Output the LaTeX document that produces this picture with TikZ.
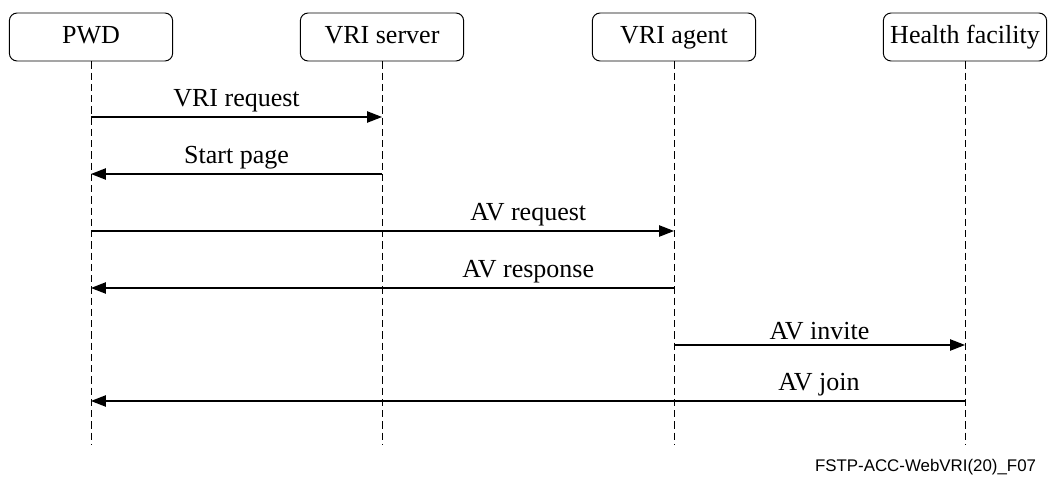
\documentclass[tikz,border=0pt]{standalone}
\usepackage{fontspec}
\setmainfont{Liberation Serif}
\newfontfamily\footfont{Liberation Sans}
\usepackage{tikz}
\usetikzlibrary{arrows.meta}
\tikzset{
  actor/.style={draw,rounded corners=5.5pt,minimum width=4.08cm,minimum height=1.2cm,
    text height=12.5pt,text depth=3.5pt,line width=0.7pt,font=\fontsize{18.5}{22}\selectfont},
  lifeline/.style={line width=0.7pt,dash pattern=on 5pt off 3pt},
  msg/.style={line width=0.8pt,-{Triangle[length=10.5pt,width=8pt]}},
  msglabel/.style={above,inner sep=3pt,font=\fontsize{18.5}{22}\selectfont}
}

\begin{document}
\begin{tikzpicture}[x=0.025cm,y=-0.025cm]
  \useasboundingbox (0,0) rectangle (1060,486);
  \foreach \n/\x/\t in {pwd/91/PWD,srv/382/VRI server,agt/674/VRI agent,hf/965/Health facility}{
    \node[actor] (\n) at (\x,37) {\t};
    \coordinate (\n-end) at (\x,445);
    \draw[lifeline] (\n) -- (\n-end);
  }
  \foreach \a/\b/\y/\p/\t in {pwd/srv/117/0.5/VRI request,srv/pwd/174/0.5/Start page,
      pwd/agt/231/0.75/AV request,agt/pwd/288/0.25/AV response,
      agt/hf/345/0.5/AV invite,hf/pwd/401/0.167/AV join}{
    \coordinate (m\y) at (0,\y);
    \draw[msg] (\a |- m\y) -- node[msglabel,pos=\p] (l\y) {\t} (\b |- m\y);
  }
  \node[anchor=east,font=\footfont\fontsize{12}{14}\selectfont] (fig) at (1041,467) {FSTP-ACC-WebVRI(20)\_F07};
\end{tikzpicture}
\end{document}
